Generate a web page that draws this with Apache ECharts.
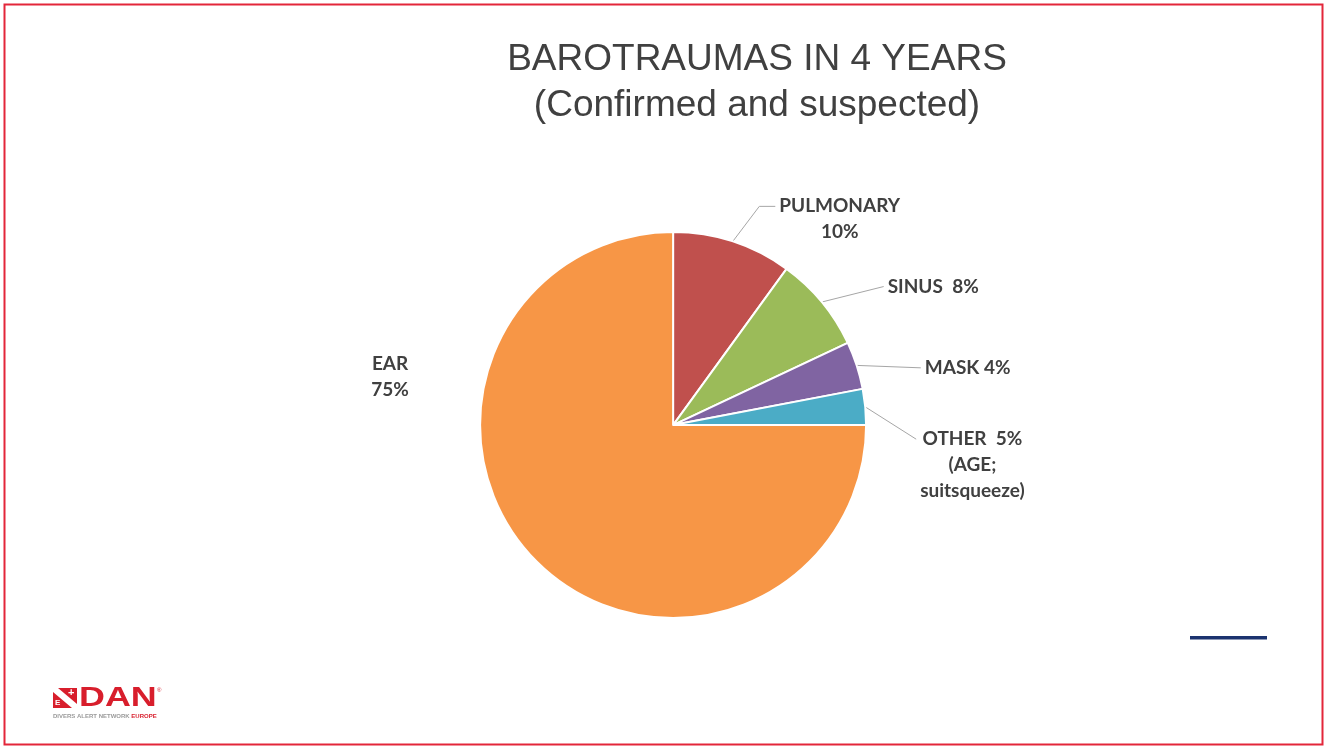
<!DOCTYPE html>
<html>
<head>
<meta charset="utf-8">
<script src="https://cdn.jsdelivr.net/npm/echarts@6/dist/echarts.min.js"></script>
<style>
  html, body { margin: 0; padding: 0; background: #fff; }
  #chart { width: 1325px; height: 747px; }
</style>
</head>
<body>
<div id="chart"></div>
<script>
// data
const categories = ['PULMONARY', 'SINUS', 'MASK', 'OTHER', 'EAR'];
const values = [10, 8, 4, 3, 75];
const labelTexts = ['PULMONARY\n10%', 'SINUS  8%', 'MASK 4%', 'OTHER  5%\n(AGE;\nsuitsqueeze)', 'EAR\n75%'];
const colors = ['#c0504d', '#9bbb59', '#8064a2', '#4bacc6', '#f79646'];
const titleLines = ['BAROTRAUMAS IN 4 YEARS', '(Confirmed and suspected)'];

let chart = echarts.init(document.getElementById('chart'), null, { renderer: 'canvas' });

let pieData = categories.map((name, i) => {
  let item = { name: name, value: values[i], itemStyle: { color: colors[i] } };
  if (name === 'EAR') {
    item.labelLine = { show: false };
  }
  return item;
});

// nudges so the labels sit where the slide has them (excel "best fit")
let labelNudge = {
  PULMONARY: [-4, -5],
  SINUS: [7, -4],
  MASK: [6, 8],
  OTHER: [-8, 60]
};

let option = {
  animation: false,
  backgroundColor: '#fff',
  graphic: [
    // slide frame
    {
      type: 'rect', shape: { x: 4.5, y: 4.5, width: 1318, height: 740 },
      style: { fill: null, stroke: '#e3263a', lineWidth: 2 }
    },
    {
      type: 'text', x: 757, y: 37,
      style: {
        text: titleLines.join('\n'), textAlign: 'center', lineHeight: 46,
        font: '37px "Liberation Sans", Arial, sans-serif', fill: '#404040'
      }
    },
    // small navy bar bottom right
    {
      type: 'rect', shape: { x: 1190, y: 636, width: 77, height: 3.5 },
      style: { fill: '#1b336f' }
    },
    // DAN Europe logo
    {
      type: 'group', x: 53, y: 688,
      children: [
        { type: 'rect', shape: { x: 0, y: 0, width: 24, height: 20 }, style: { fill: '#d81e2c' } },
        { type: 'polygon', shape: { points: [[0, 0], [5, 0], [24, 16], [24, 20], [19, 20], [0, 4]] }, style: { fill: '#fff' } },
        { type: 'text', x: 2, y: 11, style: { text: 'E', font: 'bold 8px "Liberation Sans", sans-serif', fill: '#fff' } },
        { type: 'text', x: 15, y: -1, style: { text: '+', font: 'bold 11px "Liberation Sans", sans-serif', fill: '#fff' } },
        { type: 'text', x: 26, y: -3, scaleX: 1.33, style: { text: 'DAN', font: 'bold 27px "Liberation Sans", sans-serif', fill: '#d81e2c' } },
        { type: 'text', x: 104, y: -1, style: { text: '®', font: '6px "Liberation Sans", sans-serif', fill: '#d81e2c' } },
        {
          type: 'text', x: 0, y: 25,
          style: {
            text: '{g|DIVERS ALERT NETWORK }{r|EUROPE}',
            rich: {
              g: { font: 'bold 6px "Liberation Sans", sans-serif', fill: '#9a9a9a' },
              r: { font: 'bold 6px "Liberation Sans", sans-serif', fill: '#d81e2c' }
            }
          }
        }
      ]
    }
  ],
  series: [
    {
      type: 'pie',
      center: ['50.8%', '56.9%'],
      radius: 193,
      startAngle: 90,
      clockwise: true,
      avoidLabelOverlap: false,
      itemStyle: { borderColor: '#fff', borderWidth: 2 },
      label: {
        show: true,
        position: 'outside',
        formatter: p => labelTexts[p.dataIndex],
        fontFamily: 'Lato, "Open Sans", sans-serif',
        fontWeight: 'bold',
        fontSize: 19,
        lineHeight: 26,
        color: '#404040'
      },
      labelLine: {
        show: true,
        length: 18,
        length2: 40,
        lineStyle: { color: '#a6a6a6', width: 1 }
      },
      labelLayout: function (params) {
        let name = categories[params.dataIndex];
        let r = params.labelRect;
        if (name === 'EAR') {
          return {
            x: params.rect.x - 89,
            y: params.rect.y + params.rect.height * 0.375,
            align: 'center',
            verticalAlign: 'middle'
          };
        }
        let n = labelNudge[name];
        let start = params.labelLinePoints[0];
        let end = [r.x + n[0] - 4, r.y + n[1] + 13];
        let pts = [start, end, end];
        if (name === 'PULMONARY') {
          pts = [start, [end[0] - 16, end[1]], end];
        }
        return {
          align: 'center',
          dx: r.width / 2 + n[0],
          dy: n[1],
          labelLinePoints: pts
        };
      },
      emphasis: { disabled: true },
      data: pieData
    }
  ]
};

chart.setOption(option);
</script>
</body>
</html>
